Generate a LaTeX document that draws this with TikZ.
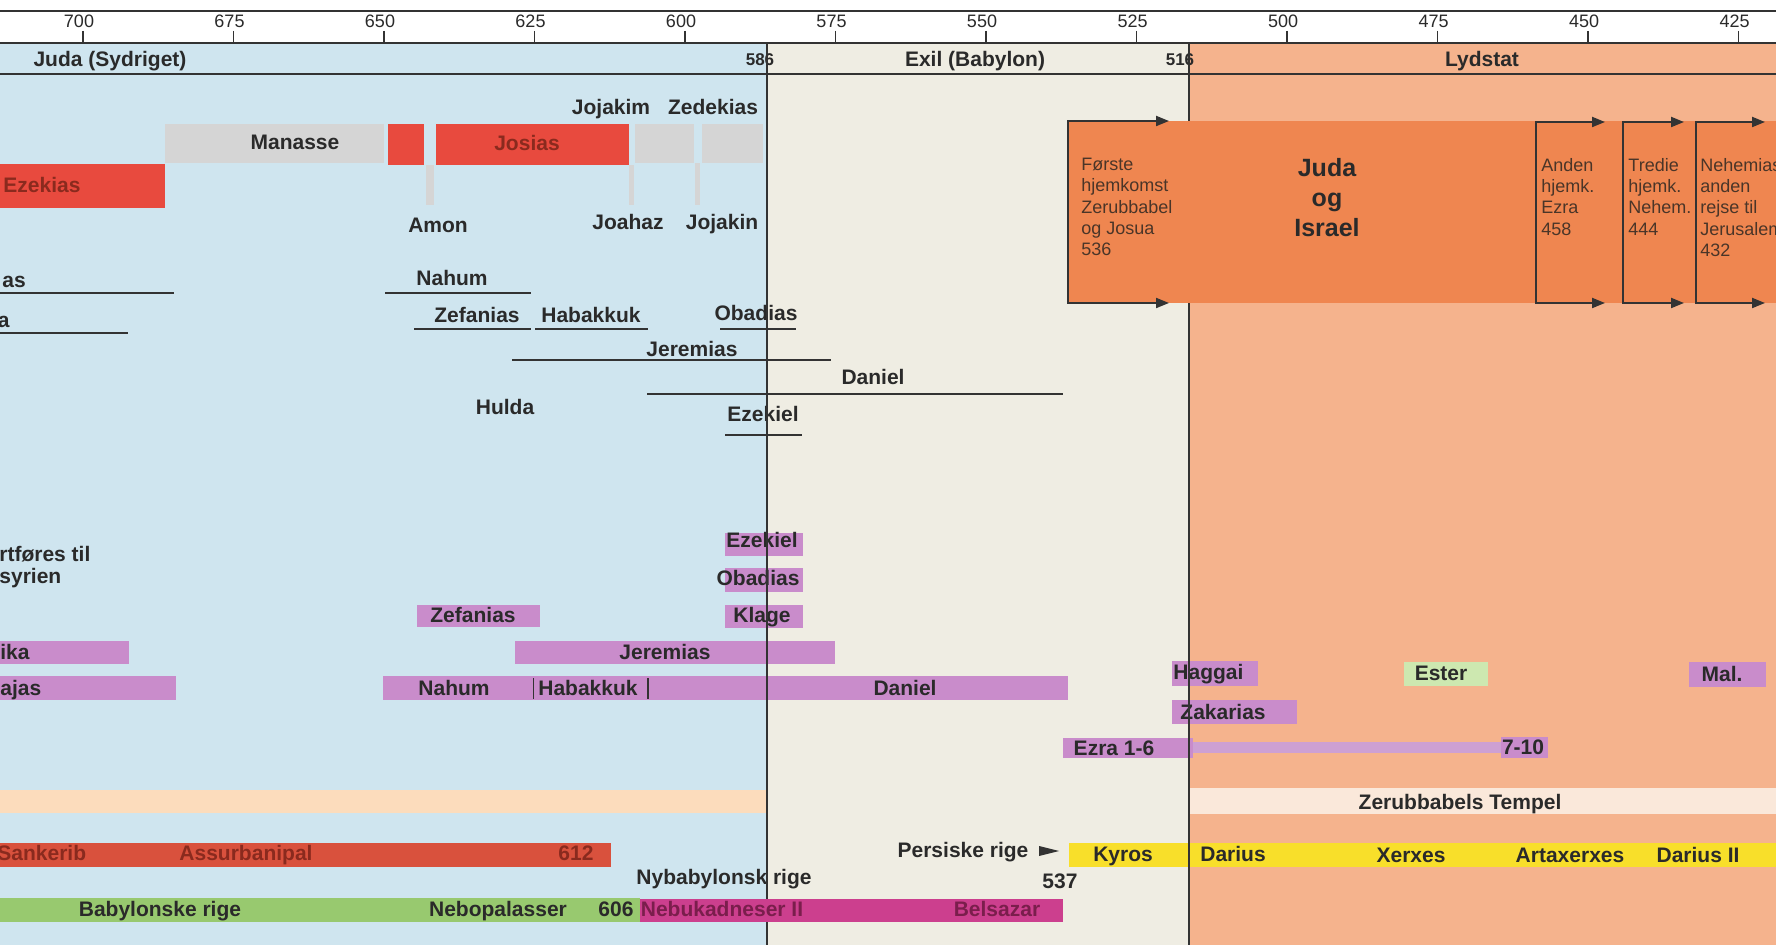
\documentclass[tikz,border=0pt]{standalone}
\usepackage{fontspec}
\setmainfont{Liberation Sans}
\usetikzlibrary{arrows.meta}
\definecolor{bluebg}{HTML}{CFE5EF}
\definecolor{beigebg}{HTML}{EFEDE3}
\definecolor{orbg}{HTML}{F5B38D}
\definecolor{peach}{HTML}{FCDCBC}
\definecolor{cream}{HTML}{FAE8DA}
\definecolor{orbox}{HTML}{EF8650}
\definecolor{kgrey}{HTML}{D5D5D5}
\definecolor{kred}{HTML}{E84A3E}
\definecolor{ared}{HTML}{D9513D}
\definecolor{purp}{HTML}{C98CCB}
\definecolor{purpl}{HTML}{CDA0D3}
\definecolor{bgreen}{HTML}{98C96F}
\definecolor{lgreen}{HTML}{CDE8B0}
\definecolor{magbar}{HTML}{CC3F8E}
\definecolor{yelbar}{HTML}{F8DF2A}
\definecolor{txt}{HTML}{2A2A2A}
\definecolor{rtxt}{HTML}{8A2A1E}
\definecolor{mtxt}{HTML}{7A1E4C}
\definecolor{btxt}{HTML}{4A3528}
\definecolor{lc}{HTML}{333333}
\newcommand{\fL}{\fontsize{10.5}{12.6}\selectfont\bfseries}
\newcommand{\fLL}{\fontsize{10.5}{11}\selectfont\bfseries}
\newcommand{\fY}{\fontsize{9}{10}\selectfont}
\newcommand{\fS}{\fontsize{9}{10.6}\selectfont}
\newcommand{\fB}{\fontsize{12.5}{15}\selectfont\bfseries}
\newcommand{\fN}{\fontsize{8.5}{10}\selectfont\bfseries}
\tikzset{
  lbl/.style={font=\fL, text=txt, inner sep=0pt, text height=7.5pt, text depth=0pt},
  rlbl/.style={lbl, text=rtxt},
  mlbl/.style={lbl, text=mtxt},
  yrl/.style={font=\fY, text=txt, inner sep=0pt, text height=6.4pt, text depth=0pt},
  num/.style={font=\fN, text=txt, inner sep=0pt, text height=6.1pt, text depth=0pt},
  small/.style={font=\fS, text=btxt, inner sep=0pt, align=left, anchor=north west},
  big/.style={font=\fB, text=txt, inner sep=0pt, align=center, anchor=north},
  axisline/.style={line width=1.1pt, draw=lc},
  tickline/.style={line width=0.9pt, draw=lc},
  vline/.style={line width=1pt, draw=lc},
  pline/.style={line width=1pt, draw=lc},
  divline/.style={line width=0.7pt, draw=lc},
  hjframe/.style={line width=1pt, draw=lc, {Triangle[length=6.5pt,width=5pt]}-{Triangle[length=6.5pt,width=5pt]}},
}
\begin{document}
\begin{tikzpicture}[x=0.5pt,y=-0.5pt]
\useasboundingbox (0,0) rectangle (1776,945);
% backgrounds
\fill[white] (0,0) rectangle (1776,945);
\fill[bluebg] (0,43) rectangle (767,945);
\fill[beigebg] (767,43) rectangle (1189,945);
\fill[orbg] (1189,43) rectangle (1776,945);
\fill[peach] (0,790) rectangle (767,813);
\fill[cream] (1189,788) rectangle (1776,814);

% axis
\draw[axisline] (0,11) -- (1776,11);
\draw[axisline] (0,43) -- (1776,43);
\draw[axisline] (0,74) -- (1776,74);
\foreach \yr in {700,675,...,425}{
  \pgfmathsetmacro{\xx}{83+(700-\yr)*6.02}
  \draw[tickline] (\xx,31) -- (\xx,43);
  \node[yrl] (yr\yr) at ({\xx-4},21) {\yr};
}

% era labels
\node[lbl] (juda) at (110,59) {Juda (Sydriget)};
\node[num] (n586) at (760,59) {586};
\node[lbl] (exil) at (975,59) {Exil (Babylon)};
\node[num] (n516) at (1180,59) {516};
\node[lbl] (lydstat) at (1482,59) {Lydstat};

% kings
\fill[kgrey] (165,124) rectangle (384,163);
\fill[kred] (388,124) rectangle (424,165);
\fill[kgrey] (426,165) rectangle (434,205);
\fill[kred] (436,124) rectangle (629,165);
\fill[kgrey] (629,165) rectangle (634,205);
\fill[kgrey] (635,124) rectangle (694,163);
\fill[kgrey] (695,163) rectangle (700,205);
\fill[kgrey] (702,124) rectangle (763,163);
\fill[kred] (0,164) rectangle (165,208);
\node[lbl] (manasse) at (295,142) {Manasse};
\node[rlbl] (josias) at (527,143) {Josias};
\node[rlbl, anchor=west] (ezekias) at (3,185) {Ezekias};
\node[lbl] (jojakim) at (611,107) {Jojakim};
\node[lbl] (zedekias) at (713,107) {Zedekias};
\node[lbl] (amon) at (438,225) {Amon};
\node[lbl] (joahaz) at (628,222) {Joahaz};
\node[lbl] (jojakin) at (722,222) {Jojakin};

% prophets (lines)
\node[lbl, anchor=west] (pas) at (2,280) {as};
\draw[pline] (0,293) -- (174,293);
\node[lbl, anchor=east] (pa) at (10,320) {a};
\draw[pline] (0,333) -- (128,333);
\node[lbl] (nahum1) at (452,278) {Nahum};
\draw[pline] (385,293) -- (531,293);
\node[lbl] (zef1) at (477,315) {Zefanias};
\draw[pline] (414,329) -- (531,329);
\node[lbl] (hab1) at (591,315) {Habakkuk};
\draw[pline] (535,329) -- (648,329);
\node[lbl] (oba1) at (756,313) {Obadias};
\draw[pline] (720,329) -- (796,329);
\node[lbl] (jer1) at (692,349) {Jeremias};
\draw[pline] (512,360) -- (831,360);
\node[lbl] (dan1) at (873,377) {Daniel};
\draw[pline] (647,394) -- (1063,394);
\node[lbl] (hulda) at (505,407) {Hulda};
\node[lbl] (eze1) at (763,414) {Ezekiel};
\draw[pline] (725,435) -- (802,435);

% deportation text
\node[font=\fLL, text=txt, inner sep=0pt, align=left, anchor=north west] (bortf) at (-1,546) {rtføres til\\syrien};

% books (purple bars)
\fill[purp] (0,641) rectangle (129,664);
\node[lbl, anchor=west] (mika) at (0,652) {ika};
\fill[purp] (0,676) rectangle (176,700);
\node[lbl, anchor=west] (esajas) at (0,688) {ajas};
\fill[purp] (417,605) rectangle (540,627);
\node[lbl] (zef2) at (473,615) {Zefanias};
\fill[purp] (383,676) rectangle (1068,700);
\draw[divline] (533.5,678) -- (533.5,699);
\draw[divline] (648,678) -- (648,699);
\node[lbl] (nahum2) at (454,688) {Nahum};
\node[lbl] (hab2) at (588,688) {Habakkuk};
\node[lbl] (dan2) at (905,688) {Daniel};
\fill[purp] (515,641) rectangle (835,664);
\node[lbl] (jer2) at (665,652) {Jeremias};
\fill[purp] (725,533) rectangle (803,556);
\node[lbl] (eze2) at (762,540) {Ezekiel};
\fill[purp] (725,568) rectangle (803,592);
\node[lbl] (oba2) at (758,578) {Obadias};
\fill[purp] (725,605) rectangle (803,628);
\node[lbl] (klage) at (762,615) {Klage};
\fill[purp] (1172,661) rectangle (1258,686);
\node[lbl, anchor=west] (haggai) at (1173,672) {Haggai};
\fill[purp] (1172,700) rectangle (1297,724);
\node[lbl, anchor=west] (zakarias) at (1180,712) {Zakarias};
\fill[lgreen] (1404,662) rectangle (1488,686);
\node[lbl] (ester) at (1441,673) {Ester};
\fill[purp] (1689,662) rectangle (1766,687);
\node[lbl] (mal) at (1722,674) {Mal.};
\fill[purp] (1063,738) rectangle (1193,758);
\fill[purpl] (1193,742) rectangle (1501,753);
\fill[purp] (1501,737) rectangle (1548,758);
\node[lbl] (ezra1) at (1114,748) {Ezra 1-6};
\node[lbl] (ezra2) at (1523,747) {7-10};

% temple band
\node[lbl] (tempel) at (1460,802) {Zerubbabels Tempel};

% empires
\fill[ared] (0,843) rectangle (611,867);
\node[rlbl, anchor=west] (sankerib) at (-3,853) {Sankerib};
\node[rlbl] (assur) at (246,853) {Assurbanipal};
\node[rlbl] (n612) at (576,853) {612};
\fill[bgreen] (0,898) rectangle (640,922);
\node[lbl] (babrige) at (160,909) {Babylonske rige};
\node[lbl] (nebopal) at (498,909) {Nebopalasser};
\node[lbl] (n606) at (616,909) {606};
\node[lbl] (nybab) at (724,877) {Nybabylonsk rige};
\node[lbl] (persisk) at (963,850) {Persiske rige};
\fill[lc] (1039,846) -- (1059,851) -- (1039,856) -- cycle;
\node[lbl] (n537) at (1060,881) {537};
\fill[yelbar] (1069,843) rectangle (1776,867);
\node[lbl] (kyros) at (1123,854) {Kyros};
\node[lbl] (darius) at (1233,854) {Darius};
\node[lbl] (xerxes) at (1411,855) {Xerxes};
\node[lbl] (artax) at (1570,855) {Artaxerxes};
\node[lbl] (darius2) at (1698,855) {Darius II};

% era dividers
\draw[vline] (767,43) -- (767,945);
\draw[vline] (1189,43) -- (1189,945);

% Nebukadneser bar (over divider)
\fill[magbar] (640,899) rectangle (1063,922);
\node[mlbl] (nebuk) at (722,909) {Nebukadneser II};
\node[mlbl] (belsazar) at (997,909) {Belsazar};

% Juda og Israel box
\fill[orbox] (1068,121) rectangle (1776,303);
\coordinate (f1t) at (1169,121); \coordinate (f1a) at (1068,121);
\coordinate (f1b) at (1068,303); \coordinate (f1e) at (1169,303);
\coordinate (f2t) at (1605,122); \coordinate (f2a) at (1536,122);
\coordinate (f2b) at (1536,303); \coordinate (f2e) at (1605,303);
\coordinate (f3t) at (1684,122); \coordinate (f3a) at (1623,122);
\coordinate (f3b) at (1623,303); \coordinate (f3e) at (1684,303);
\coordinate (f4t) at (1765,122); \coordinate (f4a) at (1696,122);
\coordinate (f4b) at (1696,303); \coordinate (f4e) at (1765,303);
\draw[hjframe] (f1t) -- (f1a) -- (f1b) -- (f1e);
\draw[hjframe] (f2t) -- (f2a) -- (f2b) -- (f2e);
\draw[hjframe] (f3t) -- (f3a) -- (f3b) -- (f3e);
\draw[hjframe] (f4t) -- (f4a) -- (f4b) -- (f4e);
\node[small] (forste) at (1081,158) {Første\\hjemkomst\\Zerubbabel\\og Josua\\536};
\node[small] (anden) at (1541,158) {Anden\\hjemk.\\Ezra\\458};
\node[small] (tredie) at (1628,158) {Tredie\\hjemk.\\Nehem.\\444};
\node[small] (nehemias) at (1700,158) {Nehemias\\anden\\rejse til\\Jerusalem\\432};
\node[big] (judaisrael) at (1327,158) {Juda\\og\\Israel};
\end{tikzpicture}
\end{document}
